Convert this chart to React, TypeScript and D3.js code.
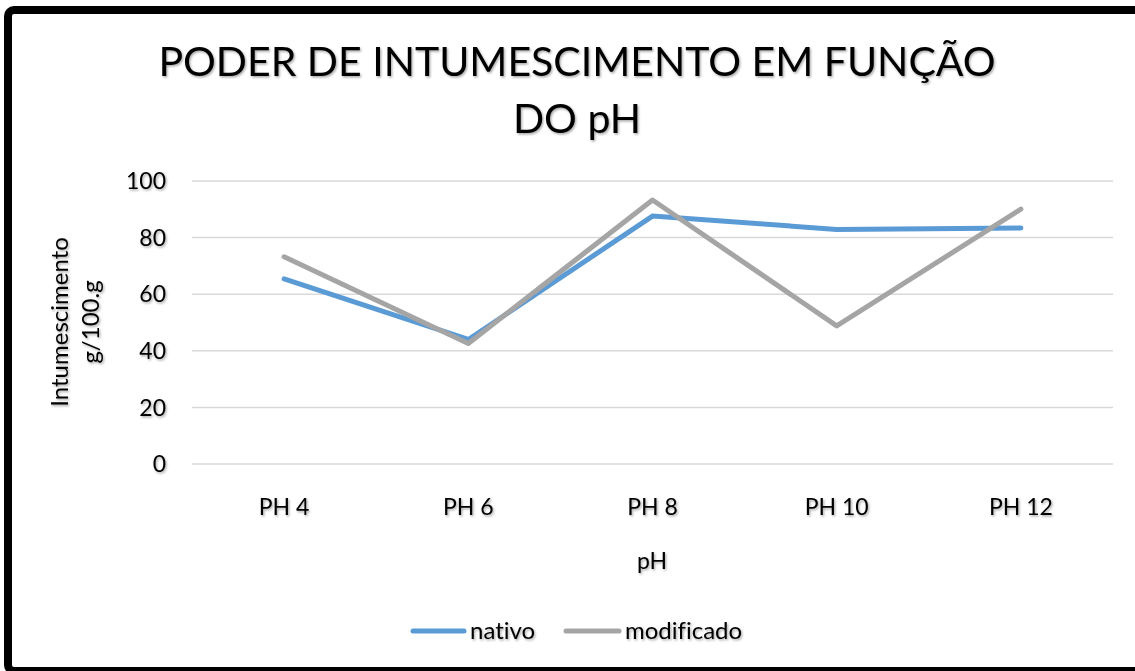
import React from "react";
import * as d3 from "d3";

const categories = ["PH 4", "PH 6", "PH 8", "PH 10", "PH 12"];
const nativo = [65.4, 44.0, 87.6, 82.9, 83.4];
const modificado = [73.2, 42.6, 93.3, 48.8, 90.1];
const yTicks = [0, 20, 40, 60, 80, 100];
const seriesNames = ["nativo", "modificado"];
const seriesColors = ["#5B9BD5", "#A5A5A5"];

const W = 1135;
const H = 671;
const FONT = "Lato, 'Open Sans', sans-serif";

export default function App() {
  const x = d3.scaleBand<string>().domain(categories).range([192, 1113]);
  const y = d3.scaleLinear().domain([0, 100]).range([464, 181]);
  const line = d3
    .line<number>()
    .x((_, i) => (x(categories[i]) as number) + x.bandwidth() / 2)
    .y((d) => y(d));
  const series = [nativo, modificado];

  return (
    <svg
      width={W}
      height={H}
      style={{ position: "absolute", left: 0, top: 0, background: "#fff", fontVariantLigatures: "none" }}
      fontFamily={FONT}
    >
      <defs>
        <filter id="sh" x="-10%" y="-30%" width="120%" height="160%">
          <feDropShadow dx="1.2" dy="1.5" stdDeviation="1" floodColor="#000" floodOpacity="0.35" />
        </filter>
      </defs>
      <rect x={0} y={0} width={W} height={H} fill="#fff" />
      <rect x={8} y={10} width={1140} height={661} rx={6} fill="#fff" stroke="#000" strokeWidth={8} />

      <g filter="url(#sh)" fill="#000">
        <text x={577} y={76} textAnchor="middle" fontSize={41}>
          PODER DE INTUMESCIMENTO EM FUNÇÃO
        </text>
        <text x={577} y={133} textAnchor="middle" fontSize={41}>
          DO pH
        </text>
      </g>

      {yTicks.map((t) => (
        <line key={t} x1={192} x2={1113} y1={y(t)} y2={y(t)} stroke="#D9D9D9" strokeWidth={1.5} />
      ))}

      <g filter="url(#sh)" fill="#000" fontSize={23}>
        {yTicks.map((t) => (
          <text key={t} x={166} y={y(t)} dy="0.36em" textAnchor="end">
            {t}
          </text>
        ))}
        {categories.map((c) => (
          <text key={c} x={(x(c) as number) + x.bandwidth() / 2} y={515} textAnchor="middle">
            {c}
          </text>
        ))}
        <text x={652} y={569} textAnchor="middle">pH</text>
        <text transform="translate(68,322) rotate(-90)" textAnchor="middle" fontSize={24}>Intumescimento</text>
        <text transform="translate(99,322) rotate(-90)" textAnchor="middle" fontSize={24}>g/100.g</text>
      </g>

      {series.map((s, i) => (
        <path
          key={seriesNames[i]}
          d={line(s) as string}
          fill="none"
          stroke={seriesColors[i]}
          strokeWidth={5}
          strokeLinecap="round"
          strokeLinejoin="round"
        />
      ))}

      <g>
        <line x1={413} x2={464} y1={631} y2={631} stroke={seriesColors[0]} strokeWidth={5} strokeLinecap="round" />
        <line x1={566} x2={619} y1={631} y2={631} stroke={seriesColors[1]} strokeWidth={5} strokeLinecap="round" />
        <g filter="url(#sh)" fill="#000" fontSize={24}>
          <text x={470} y={639}>{seriesNames[0]}</text>
          <text x={625} y={639}>{seriesNames[1]}</text>
        </g>
      </g>
    </svg>
  );
}
